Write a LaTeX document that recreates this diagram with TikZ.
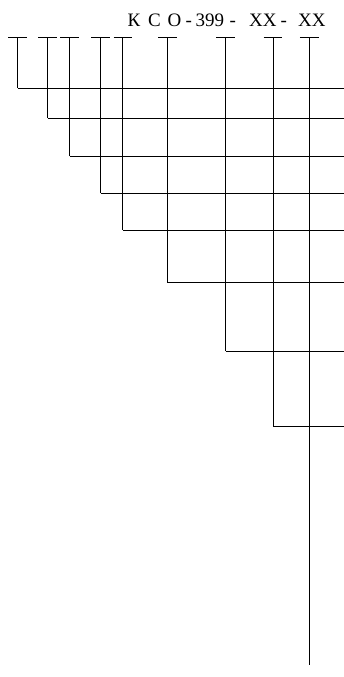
\documentclass[tikz,border=0pt]{standalone}
\usepackage{fontspec}
\setmainfont{Liberation Serif}
\begin{document}
\begin{tikzpicture}[x=1pt,y=-1pt,
  ln/.style={line width=0.9pt,black},
  tok/.style={anchor=base west,inner sep=0pt,font=\fontsize{19}{20}\selectfont}]
\useasboundingbox (0,0) rectangle (344,677);
% text tokens
\node[tok] (k) at (127.5,27) {К};
\node[tok] (c) at (148,27) {С};
\node[tok] (o) at (167.5,27) {О};
\node[tok] (d1) at (185.5,27) {-};
\node[tok] (n) at (195.5,27) {399};
\node[tok] (d2) at (229.5,27) {-};
\node[tok] (x1) at (249,27) {XX};
\node[tok] (d3) at (280.5,27) {-};
\node[tok] (x2) at (298,27) {XX};
% verticals: x positions and bottom ends
\foreach \i/\x/\yb in {1/17.7/88,2/47.7/118,3/69.5/156,4/100.5/193,5/122.8/230,6/167.3/282,7/225.7/351,8/273/426,9/309.2/665}{
  \coordinate (t\i) at (\x,37.3);
  \coordinate (b\i) at (\x,\yb);
  \coordinate (tl\i) at (\x-9.3,37.3);
  \coordinate (tr\i) at (\x+9.3,37.3);
  \draw[ln] (tl\i) -- (tr\i);
  \draw[ln] (t\i) -- (b\i);
}
% horizontals to right edge
\foreach \i/\yb in {1/88,2/118,3/156,4/193,5/230,6/282,7/351,8/426}{
  \coordinate (r\i) at (343.5,\yb);
  \draw[ln] (b\i) -- (r\i);
}
\end{tikzpicture}
\end{document}
